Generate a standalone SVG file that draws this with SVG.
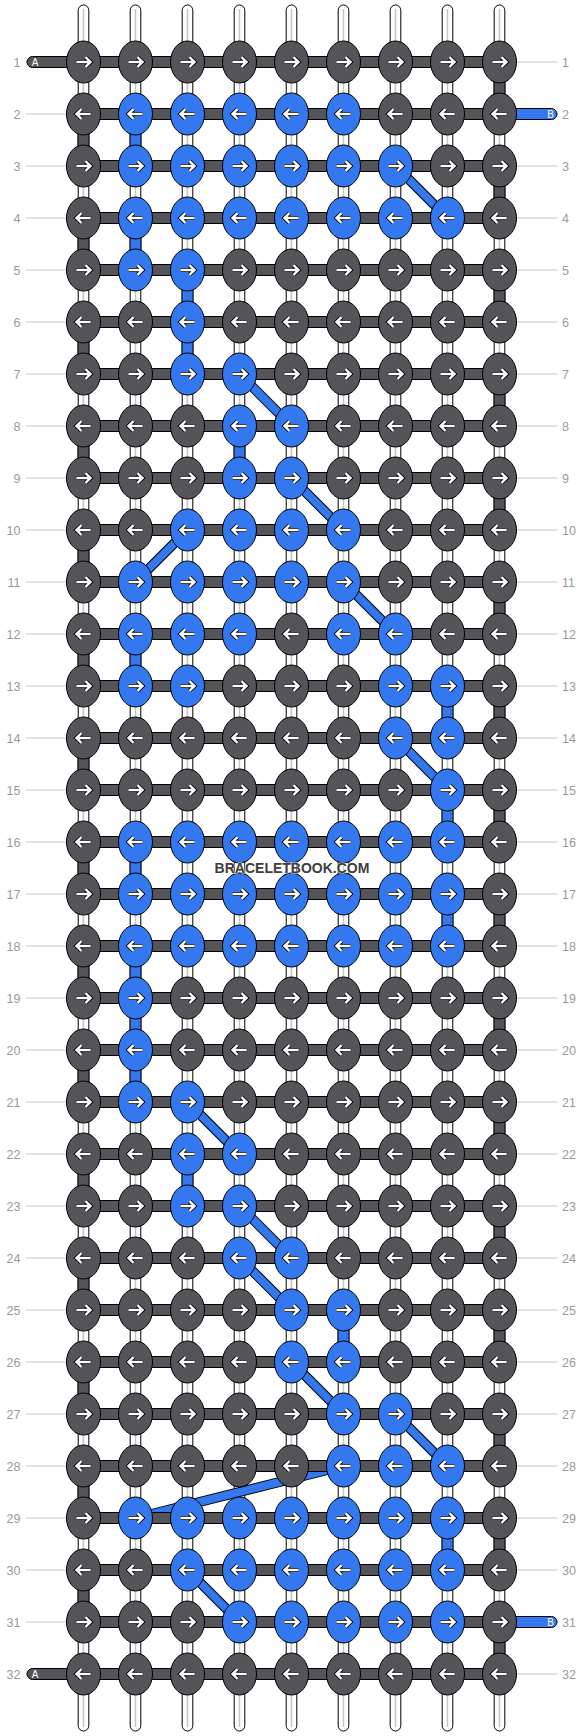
<svg xmlns="http://www.w3.org/2000/svg" xmlns:xlink="http://www.w3.org/1999/xlink" width="584" height="1736" viewBox="0 0 584 1736">
<style>
.d{fill:#555559;stroke:#000;stroke-width:1}
.b{fill:#3478ef;stroke:#000;stroke-width:1}
ellipse{rx:17px;ry:21px}
.ao{fill:none;stroke:#000;stroke-width:4.2}
.ai{fill:none;stroke:#fff;stroke-width:2.4}
.lbl{font-family:"Liberation Sans",Arial,sans-serif;font-size:12.5px;fill:#9a9a9a}
.ll{stroke:#c4c4c4;stroke-width:1;fill:none}
.vs{fill:#fff;stroke:#000;stroke-width:1}
.vc{stroke:#c8c8c8;stroke-width:1.6;fill:none}
.gd{fill:#555559;stroke:#000;stroke-width:1}
.gb{fill:#3478ef;stroke:#000;stroke-width:1}
.do{stroke:#000;stroke-width:10}
.di{stroke:#3478ef;stroke-width:8}
.st{font-family:"Liberation Sans",Arial,sans-serif;font-size:10px;fill:#fff;text-anchor:middle}
.wm{font-family:"Liberation Sans",Arial,sans-serif;font-size:14px;font-weight:bold;fill:#3d3d3d;text-anchor:middle;stroke:rgba(255,255,255,0.6);stroke-width:1.5;paint-order:stroke}
</style>
<defs>
<g id="R"><path class="ao" d="M-7,0H7M2,-4.8L7,0L2,4.8"/><path class="ai" d="M-7,0H7M2,-4.8L7,0L2,4.8"/></g>
<g id="L"><path class="ao" d="M7,0H-7M-2,-4.8L-7,0L-2,4.8"/><path class="ai" d="M7,0H-7M-2,-4.8L-7,0L-2,4.8"/></g>
</defs>
<g id="labels">
<path class="ll" d="M26,62H70M26,114H70M26,166H70M26,218H70M26,270H70M26,322H70M26,374H70M26,426H70M26,478H70M26,530H70M26,582H70M26,634H70M26,686H70M26,738H70M26,790H70M26,842H70M26,894H70M26,946H70M26,998H70M26,1050H70M26,1102H70M26,1154H70M26,1206H70M26,1258H70M26,1310H70M26,1362H70M26,1414H70M26,1466H70M26,1518H70M26,1570H70M26,1622H70M26,1674H70"/>
<path class="ll" d="M510,62H557M510,114H557M510,166H557M510,218H557M510,270H557M510,322H557M510,374H557M510,426H557M510,478H557M510,530H557M510,582H557M510,634H557M510,686H557M510,738H557M510,790H557M510,842H557M510,894H557M510,946H557M510,998H557M510,1050H557M510,1102H557M510,1154H557M510,1206H557M510,1258H557M510,1310H557M510,1362H557M510,1414H557M510,1466H557M510,1518H557M510,1570H557M510,1622H557M510,1674H557"/>
<g class="lbl" text-anchor="end">
<text x="20.5" y="66.5">1</text><text x="20.5" y="118.5">2</text><text x="20.5" y="170.5">3</text><text x="20.5" y="222.5">4</text><text x="20.5" y="274.5">5</text><text x="20.5" y="326.5">6</text><text x="20.5" y="378.5">7</text><text x="20.5" y="430.5">8</text><text x="20.5" y="482.5">9</text><text x="20.5" y="534.5">10</text><text x="20.5" y="586.5">11</text><text x="20.5" y="638.5">12</text><text x="20.5" y="690.5">13</text><text x="20.5" y="742.5">14</text><text x="20.5" y="794.5">15</text><text x="20.5" y="846.5">16</text><text x="20.5" y="898.5">17</text><text x="20.5" y="950.5">18</text><text x="20.5" y="1002.5">19</text><text x="20.5" y="1054.5">20</text><text x="20.5" y="1106.5">21</text><text x="20.5" y="1158.5">22</text><text x="20.5" y="1210.5">23</text><text x="20.5" y="1262.5">24</text><text x="20.5" y="1314.5">25</text><text x="20.5" y="1366.5">26</text><text x="20.5" y="1418.5">27</text><text x="20.5" y="1470.5">28</text><text x="20.5" y="1522.5">29</text><text x="20.5" y="1574.5">30</text><text x="20.5" y="1626.5">31</text><text x="20.5" y="1678.5">32</text>
</g>
<g class="lbl">
<text x="562" y="66.5">1</text><text x="562" y="118.5">2</text><text x="562" y="170.5">3</text><text x="562" y="222.5">4</text><text x="562" y="274.5">5</text><text x="562" y="326.5">6</text><text x="562" y="378.5">7</text><text x="562" y="430.5">8</text><text x="562" y="482.5">9</text><text x="562" y="534.5">10</text><text x="562" y="586.5">11</text><text x="562" y="638.5">12</text><text x="562" y="690.5">13</text><text x="562" y="742.5">14</text><text x="562" y="794.5">15</text><text x="562" y="846.5">16</text><text x="562" y="898.5">17</text><text x="562" y="950.5">18</text><text x="562" y="1002.5">19</text><text x="562" y="1054.5">20</text><text x="562" y="1106.5">21</text><text x="562" y="1158.5">22</text><text x="562" y="1210.5">23</text><text x="562" y="1262.5">24</text><text x="562" y="1314.5">25</text><text x="562" y="1366.5">26</text><text x="562" y="1418.5">27</text><text x="562" y="1470.5">28</text><text x="562" y="1522.5">29</text><text x="562" y="1574.5">30</text><text x="562" y="1626.5">31</text><text x="562" y="1678.5">32</text>
</g>
</g>
<g id="connectors">
<g id="strings">
<rect class="vs" x="78.2" y="5" width="10.6" height="1726" rx="5.3"/>
<rect class="vs" x="130.2" y="5" width="10.6" height="1726" rx="5.3"/>
<rect class="vs" x="182.2" y="5" width="10.6" height="1726" rx="5.3"/>
<rect class="vs" x="234.2" y="5" width="10.6" height="1726" rx="5.3"/>
<rect class="vs" x="286.2" y="5" width="10.6" height="1726" rx="5.3"/>
<rect class="vs" x="338.2" y="5" width="10.6" height="1726" rx="5.3"/>
<rect class="vs" x="390.2" y="5" width="10.6" height="1726" rx="5.3"/>
<rect class="vs" x="442.2" y="5" width="10.6" height="1726" rx="5.3"/>
<rect class="vs" x="494.2" y="5" width="10.6" height="1726" rx="5.3"/>
<path class="vc" d="M83.5,9V1727M135.5,9V1727M187.5,9V1727M239.5,9V1727M291.5,9V1727M343.5,9V1727M395.5,9V1727M447.5,9V1727M499.5,9V1727"/>
</g>
<g id="turns">
<rect class="gd" x="78" y="114" width="11" height="52"/><rect class="gd" x="78" y="218" width="11" height="52"/><rect class="gd" x="78" y="322" width="11" height="52"/><rect class="gd" x="78" y="426" width="11" height="52"/><rect class="gd" x="78" y="530" width="11" height="52"/><rect class="gd" x="78" y="634" width="11" height="52"/><rect class="gd" x="78" y="738" width="11" height="52"/><rect class="gd" x="78" y="842" width="11" height="52"/><rect class="gd" x="78" y="946" width="11" height="52"/><rect class="gd" x="78" y="1050" width="11" height="52"/><rect class="gd" x="78" y="1154" width="11" height="52"/><rect class="gd" x="78" y="1258" width="11" height="52"/><rect class="gd" x="78" y="1362" width="11" height="52"/><rect class="gd" x="78" y="1466" width="11" height="52"/><rect class="gd" x="78" y="1570" width="11" height="52"/>
<rect class="gd" x="494" y="62" width="11" height="52"/><rect class="gd" x="494" y="166" width="11" height="52"/><rect class="gd" x="494" y="270" width="11" height="52"/><rect class="gd" x="494" y="374" width="11" height="52"/><rect class="gd" x="494" y="478" width="11" height="52"/><rect class="gd" x="494" y="582" width="11" height="52"/><rect class="gd" x="494" y="686" width="11" height="52"/><rect class="gd" x="494" y="790" width="11" height="52"/><rect class="gd" x="494" y="894" width="11" height="52"/><rect class="gd" x="494" y="998" width="11" height="52"/><rect class="gd" x="494" y="1102" width="11" height="52"/><rect class="gd" x="494" y="1206" width="11" height="52"/><rect class="gd" x="494" y="1310" width="11" height="52"/><rect class="gd" x="494" y="1414" width="11" height="52"/><rect class="gd" x="494" y="1518" width="11" height="52"/><rect class="gd" x="494" y="1622" width="11" height="52"/>
</g>
<g id="blue-verticals">
<rect class="gb" x="130" y="114" width="11" height="52"/><rect class="gb" x="130" y="218" width="11" height="52"/><rect class="gb" x="182" y="270" width="11" height="52"/><rect class="gb" x="182" y="322" width="11" height="52"/><rect class="gb" x="234" y="426" width="11" height="52"/><rect class="gb" x="130" y="634" width="11" height="52"/><rect class="gb" x="442" y="686" width="11" height="52"/><rect class="gb" x="442" y="790" width="11" height="52"/><rect class="gb" x="130" y="842" width="11" height="52"/><rect class="gb" x="442" y="894" width="11" height="52"/><rect class="gb" x="130" y="946" width="11" height="52"/><rect class="gb" x="130" y="998" width="11" height="52"/><rect class="gb" x="130" y="1050" width="11" height="52"/><rect class="gb" x="182" y="1154" width="11" height="52"/><rect class="gb" x="338" y="1310" width="11" height="52"/><rect class="gb" x="442" y="1518" width="11" height="52"/>
</g>
<g id="diagonals">
<g><line class="do" x1="395.5" y1="166" x2="447.5" y2="218"/><line class="di" x1="395.5" y1="166" x2="447.5" y2="218"/></g>
<g><line class="do" x1="239.5" y1="374" x2="291.5" y2="426"/><line class="di" x1="239.5" y1="374" x2="291.5" y2="426"/></g>
<g><line class="do" x1="291.5" y1="478" x2="343.5" y2="530"/><line class="di" x1="291.5" y1="478" x2="343.5" y2="530"/></g>
<g><line class="do" x1="187.5" y1="530" x2="135.5" y2="582"/><line class="di" x1="187.5" y1="530" x2="135.5" y2="582"/></g>
<g><line class="do" x1="343.5" y1="582" x2="395.5" y2="634"/><line class="di" x1="343.5" y1="582" x2="395.5" y2="634"/></g>
<g><line class="do" x1="395.5" y1="738" x2="447.5" y2="790"/><line class="di" x1="395.5" y1="738" x2="447.5" y2="790"/></g>
<g><line class="do" x1="187.5" y1="1102" x2="239.5" y2="1154"/><line class="di" x1="187.5" y1="1102" x2="239.5" y2="1154"/></g>
<g><line class="do" x1="239.5" y1="1206" x2="291.5" y2="1258"/><line class="di" x1="239.5" y1="1206" x2="291.5" y2="1258"/></g>
<g><line class="do" x1="239.5" y1="1258" x2="291.5" y2="1310"/><line class="di" x1="239.5" y1="1258" x2="291.5" y2="1310"/></g>
<g><line class="do" x1="291.5" y1="1362" x2="343.5" y2="1414"/><line class="di" x1="291.5" y1="1362" x2="343.5" y2="1414"/></g>
<g><line class="do" x1="395.5" y1="1414" x2="447.5" y2="1466"/><line class="di" x1="395.5" y1="1414" x2="447.5" y2="1466"/></g>
<g><line class="do" x1="343.5" y1="1466" x2="135.5" y2="1518"/><line class="di" x1="343.5" y1="1466" x2="135.5" y2="1518"/></g>
<g><line class="do" x1="187.5" y1="1570" x2="239.5" y2="1622"/><line class="di" x1="187.5" y1="1570" x2="239.5" y2="1622"/></g>
</g>
<g id="rows">
<rect class="gd" x="83.5" y="56.5" width="416" height="11"/><rect class="gd" x="83.5" y="108.5" width="416" height="11"/><rect class="gd" x="83.5" y="160.5" width="416" height="11"/><rect class="gd" x="83.5" y="212.5" width="416" height="11"/><rect class="gd" x="83.5" y="264.5" width="416" height="11"/><rect class="gd" x="83.5" y="316.5" width="416" height="11"/><rect class="gd" x="83.5" y="368.5" width="416" height="11"/><rect class="gd" x="83.5" y="420.5" width="416" height="11"/><rect class="gd" x="83.5" y="472.5" width="416" height="11"/><rect class="gd" x="83.5" y="524.5" width="416" height="11"/><rect class="gd" x="83.5" y="576.5" width="416" height="11"/><rect class="gd" x="83.5" y="628.5" width="416" height="11"/><rect class="gd" x="83.5" y="680.5" width="416" height="11"/><rect class="gd" x="83.5" y="732.5" width="416" height="11"/><rect class="gd" x="83.5" y="784.5" width="416" height="11"/><rect class="gd" x="83.5" y="836.5" width="416" height="11"/><rect class="gd" x="83.5" y="888.5" width="416" height="11"/><rect class="gd" x="83.5" y="940.5" width="416" height="11"/><rect class="gd" x="83.5" y="992.5" width="416" height="11"/><rect class="gd" x="83.5" y="1044.5" width="416" height="11"/><rect class="gd" x="83.5" y="1096.5" width="416" height="11"/><rect class="gd" x="83.5" y="1148.5" width="416" height="11"/><rect class="gd" x="83.5" y="1200.5" width="416" height="11"/><rect class="gd" x="83.5" y="1252.5" width="416" height="11"/><rect class="gd" x="83.5" y="1304.5" width="416" height="11"/><rect class="gd" x="83.5" y="1356.5" width="416" height="11"/><rect class="gd" x="83.5" y="1408.5" width="416" height="11"/><rect class="gd" x="83.5" y="1460.5" width="416" height="11"/><rect class="gd" x="83.5" y="1512.5" width="416" height="11"/><rect class="gd" x="83.5" y="1564.5" width="416" height="11"/><rect class="gd" x="83.5" y="1616.5" width="416" height="11"/><rect class="gd" x="83.5" y="1668.5" width="416" height="11"/>
</g>
<g id="ends">
<rect class="gd" x="27" y="56.5" width="60" height="11" rx="5.5"/><text class="st" x="35" y="65.6">A</text>
<rect class="gd" x="27" y="1668.5" width="60" height="11" rx="5.5"/><text class="st" x="35" y="1677.6">A</text>
<rect class="gb" x="496" y="108.5" width="61" height="11" rx="5.5"/><text class="st" x="550.5" y="117.6">B</text>
<rect class="gb" x="496" y="1616.5" width="61" height="11" rx="5.5"/><text class="st" x="550.5" y="1625.6">B</text>
</g>
</g>
<g id="knots">
<g transform="translate(0,62)">
<g id="k1-1"><ellipse class="d" cx="83.5"/><use href="#R" x="83.5"/></g><g id="k1-2"><ellipse class="d" cx="135.5"/><use href="#R" x="135.5"/></g><g id="k1-3"><ellipse class="d" cx="187.5"/><use href="#R" x="187.5"/></g><g id="k1-4"><ellipse class="d" cx="239.5"/><use href="#R" x="239.5"/></g><g id="k1-5"><ellipse class="d" cx="291.5"/><use href="#R" x="291.5"/></g><g id="k1-6"><ellipse class="d" cx="343.5"/><use href="#R" x="343.5"/></g><g id="k1-7"><ellipse class="d" cx="395.5"/><use href="#R" x="395.5"/></g><g id="k1-8"><ellipse class="d" cx="447.5"/><use href="#R" x="447.5"/></g><g id="k1-9"><ellipse class="d" cx="499.5"/><use href="#R" x="499.5"/></g>
</g>
<g transform="translate(0,114)">
<g id="k2-1"><ellipse class="d" cx="83.5"/><use href="#L" x="83.5"/></g><g id="k2-2"><ellipse class="b" cx="135.5"/><use href="#L" x="135.5"/></g><g id="k2-3"><ellipse class="b" cx="187.5"/><use href="#L" x="187.5"/></g><g id="k2-4"><ellipse class="b" cx="239.5"/><use href="#L" x="239.5"/></g><g id="k2-5"><ellipse class="b" cx="291.5"/><use href="#L" x="291.5"/></g><g id="k2-6"><ellipse class="b" cx="343.5"/><use href="#L" x="343.5"/></g><g id="k2-7"><ellipse class="d" cx="395.5"/><use href="#L" x="395.5"/></g><g id="k2-8"><ellipse class="d" cx="447.5"/><use href="#L" x="447.5"/></g><g id="k2-9"><ellipse class="d" cx="499.5"/><use href="#L" x="499.5"/></g>
</g>
<g transform="translate(0,166)">
<g id="k3-1"><ellipse class="d" cx="83.5"/><use href="#R" x="83.5"/></g><g id="k3-2"><ellipse class="b" cx="135.5"/><use href="#R" x="135.5"/></g><g id="k3-3"><ellipse class="b" cx="187.5"/><use href="#R" x="187.5"/></g><g id="k3-4"><ellipse class="b" cx="239.5"/><use href="#R" x="239.5"/></g><g id="k3-5"><ellipse class="b" cx="291.5"/><use href="#R" x="291.5"/></g><g id="k3-6"><ellipse class="b" cx="343.5"/><use href="#R" x="343.5"/></g><g id="k3-7"><ellipse class="b" cx="395.5"/><use href="#R" x="395.5"/></g><g id="k3-8"><ellipse class="d" cx="447.5"/><use href="#R" x="447.5"/></g><g id="k3-9"><ellipse class="d" cx="499.5"/><use href="#R" x="499.5"/></g>
</g>
<g transform="translate(0,218)">
<g id="k4-1"><ellipse class="d" cx="83.5"/><use href="#L" x="83.5"/></g><g id="k4-2"><ellipse class="b" cx="135.5"/><use href="#L" x="135.5"/></g><g id="k4-3"><ellipse class="b" cx="187.5"/><use href="#L" x="187.5"/></g><g id="k4-4"><ellipse class="b" cx="239.5"/><use href="#L" x="239.5"/></g><g id="k4-5"><ellipse class="b" cx="291.5"/><use href="#L" x="291.5"/></g><g id="k4-6"><ellipse class="b" cx="343.5"/><use href="#L" x="343.5"/></g><g id="k4-7"><ellipse class="b" cx="395.5"/><use href="#L" x="395.5"/></g><g id="k4-8"><ellipse class="b" cx="447.5"/><use href="#L" x="447.5"/></g><g id="k4-9"><ellipse class="d" cx="499.5"/><use href="#L" x="499.5"/></g>
</g>
<g transform="translate(0,270)">
<g id="k5-1"><ellipse class="d" cx="83.5"/><use href="#R" x="83.5"/></g><g id="k5-2"><ellipse class="b" cx="135.5"/><use href="#R" x="135.5"/></g><g id="k5-3"><ellipse class="b" cx="187.5"/><use href="#R" x="187.5"/></g><g id="k5-4"><ellipse class="d" cx="239.5"/><use href="#R" x="239.5"/></g><g id="k5-5"><ellipse class="d" cx="291.5"/><use href="#R" x="291.5"/></g><g id="k5-6"><ellipse class="d" cx="343.5"/><use href="#R" x="343.5"/></g><g id="k5-7"><ellipse class="d" cx="395.5"/><use href="#R" x="395.5"/></g><g id="k5-8"><ellipse class="d" cx="447.5"/><use href="#R" x="447.5"/></g><g id="k5-9"><ellipse class="d" cx="499.5"/><use href="#R" x="499.5"/></g>
</g>
<g transform="translate(0,322)">
<g id="k6-1"><ellipse class="d" cx="83.5"/><use href="#L" x="83.5"/></g><g id="k6-2"><ellipse class="d" cx="135.5"/><use href="#L" x="135.5"/></g><g id="k6-3"><ellipse class="b" cx="187.5"/><use href="#L" x="187.5"/></g><g id="k6-4"><ellipse class="d" cx="239.5"/><use href="#L" x="239.5"/></g><g id="k6-5"><ellipse class="d" cx="291.5"/><use href="#L" x="291.5"/></g><g id="k6-6"><ellipse class="d" cx="343.5"/><use href="#L" x="343.5"/></g><g id="k6-7"><ellipse class="d" cx="395.5"/><use href="#L" x="395.5"/></g><g id="k6-8"><ellipse class="d" cx="447.5"/><use href="#L" x="447.5"/></g><g id="k6-9"><ellipse class="d" cx="499.5"/><use href="#L" x="499.5"/></g>
</g>
<g transform="translate(0,374)">
<g id="k7-1"><ellipse class="d" cx="83.5"/><use href="#R" x="83.5"/></g><g id="k7-2"><ellipse class="d" cx="135.5"/><use href="#R" x="135.5"/></g><g id="k7-3"><ellipse class="b" cx="187.5"/><use href="#R" x="187.5"/></g><g id="k7-4"><ellipse class="b" cx="239.5"/><use href="#R" x="239.5"/></g><g id="k7-5"><ellipse class="d" cx="291.5"/><use href="#R" x="291.5"/></g><g id="k7-6"><ellipse class="d" cx="343.5"/><use href="#R" x="343.5"/></g><g id="k7-7"><ellipse class="d" cx="395.5"/><use href="#R" x="395.5"/></g><g id="k7-8"><ellipse class="d" cx="447.5"/><use href="#R" x="447.5"/></g><g id="k7-9"><ellipse class="d" cx="499.5"/><use href="#R" x="499.5"/></g>
</g>
<g transform="translate(0,426)">
<g id="k8-1"><ellipse class="d" cx="83.5"/><use href="#L" x="83.5"/></g><g id="k8-2"><ellipse class="d" cx="135.5"/><use href="#L" x="135.5"/></g><g id="k8-3"><ellipse class="d" cx="187.5"/><use href="#L" x="187.5"/></g><g id="k8-4"><ellipse class="b" cx="239.5"/><use href="#L" x="239.5"/></g><g id="k8-5"><ellipse class="b" cx="291.5"/><use href="#L" x="291.5"/></g><g id="k8-6"><ellipse class="d" cx="343.5"/><use href="#L" x="343.5"/></g><g id="k8-7"><ellipse class="d" cx="395.5"/><use href="#L" x="395.5"/></g><g id="k8-8"><ellipse class="d" cx="447.5"/><use href="#L" x="447.5"/></g><g id="k8-9"><ellipse class="d" cx="499.5"/><use href="#L" x="499.5"/></g>
</g>
<g transform="translate(0,478)">
<g id="k9-1"><ellipse class="d" cx="83.5"/><use href="#R" x="83.5"/></g><g id="k9-2"><ellipse class="d" cx="135.5"/><use href="#R" x="135.5"/></g><g id="k9-3"><ellipse class="d" cx="187.5"/><use href="#R" x="187.5"/></g><g id="k9-4"><ellipse class="b" cx="239.5"/><use href="#R" x="239.5"/></g><g id="k9-5"><ellipse class="b" cx="291.5"/><use href="#R" x="291.5"/></g><g id="k9-6"><ellipse class="d" cx="343.5"/><use href="#R" x="343.5"/></g><g id="k9-7"><ellipse class="d" cx="395.5"/><use href="#R" x="395.5"/></g><g id="k9-8"><ellipse class="d" cx="447.5"/><use href="#R" x="447.5"/></g><g id="k9-9"><ellipse class="d" cx="499.5"/><use href="#R" x="499.5"/></g>
</g>
<g transform="translate(0,530)">
<g id="k10-1"><ellipse class="d" cx="83.5"/><use href="#L" x="83.5"/></g><g id="k10-2"><ellipse class="d" cx="135.5"/><use href="#L" x="135.5"/></g><g id="k10-3"><ellipse class="b" cx="187.5"/><use href="#L" x="187.5"/></g><g id="k10-4"><ellipse class="b" cx="239.5"/><use href="#L" x="239.5"/></g><g id="k10-5"><ellipse class="b" cx="291.5"/><use href="#L" x="291.5"/></g><g id="k10-6"><ellipse class="b" cx="343.5"/><use href="#L" x="343.5"/></g><g id="k10-7"><ellipse class="d" cx="395.5"/><use href="#L" x="395.5"/></g><g id="k10-8"><ellipse class="d" cx="447.5"/><use href="#L" x="447.5"/></g><g id="k10-9"><ellipse class="d" cx="499.5"/><use href="#L" x="499.5"/></g>
</g>
<g transform="translate(0,582)">
<g id="k11-1"><ellipse class="d" cx="83.5"/><use href="#R" x="83.5"/></g><g id="k11-2"><ellipse class="b" cx="135.5"/><use href="#R" x="135.5"/></g><g id="k11-3"><ellipse class="b" cx="187.5"/><use href="#R" x="187.5"/></g><g id="k11-4"><ellipse class="b" cx="239.5"/><use href="#R" x="239.5"/></g><g id="k11-5"><ellipse class="b" cx="291.5"/><use href="#R" x="291.5"/></g><g id="k11-6"><ellipse class="b" cx="343.5"/><use href="#R" x="343.5"/></g><g id="k11-7"><ellipse class="d" cx="395.5"/><use href="#R" x="395.5"/></g><g id="k11-8"><ellipse class="d" cx="447.5"/><use href="#R" x="447.5"/></g><g id="k11-9"><ellipse class="d" cx="499.5"/><use href="#R" x="499.5"/></g>
</g>
<g transform="translate(0,634)">
<g id="k12-1"><ellipse class="d" cx="83.5"/><use href="#L" x="83.5"/></g><g id="k12-2"><ellipse class="b" cx="135.5"/><use href="#L" x="135.5"/></g><g id="k12-3"><ellipse class="b" cx="187.5"/><use href="#L" x="187.5"/></g><g id="k12-4"><ellipse class="b" cx="239.5"/><use href="#L" x="239.5"/></g><g id="k12-5"><ellipse class="d" cx="291.5"/><use href="#L" x="291.5"/></g><g id="k12-6"><ellipse class="b" cx="343.5"/><use href="#L" x="343.5"/></g><g id="k12-7"><ellipse class="b" cx="395.5"/><use href="#L" x="395.5"/></g><g id="k12-8"><ellipse class="d" cx="447.5"/><use href="#L" x="447.5"/></g><g id="k12-9"><ellipse class="d" cx="499.5"/><use href="#L" x="499.5"/></g>
</g>
<g transform="translate(0,686)">
<g id="k13-1"><ellipse class="d" cx="83.5"/><use href="#R" x="83.5"/></g><g id="k13-2"><ellipse class="b" cx="135.5"/><use href="#R" x="135.5"/></g><g id="k13-3"><ellipse class="b" cx="187.5"/><use href="#R" x="187.5"/></g><g id="k13-4"><ellipse class="d" cx="239.5"/><use href="#R" x="239.5"/></g><g id="k13-5"><ellipse class="d" cx="291.5"/><use href="#R" x="291.5"/></g><g id="k13-6"><ellipse class="d" cx="343.5"/><use href="#R" x="343.5"/></g><g id="k13-7"><ellipse class="b" cx="395.5"/><use href="#R" x="395.5"/></g><g id="k13-8"><ellipse class="b" cx="447.5"/><use href="#R" x="447.5"/></g><g id="k13-9"><ellipse class="d" cx="499.5"/><use href="#R" x="499.5"/></g>
</g>
<g transform="translate(0,738)">
<g id="k14-1"><ellipse class="d" cx="83.5"/><use href="#L" x="83.5"/></g><g id="k14-2"><ellipse class="d" cx="135.5"/><use href="#L" x="135.5"/></g><g id="k14-3"><ellipse class="d" cx="187.5"/><use href="#L" x="187.5"/></g><g id="k14-4"><ellipse class="d" cx="239.5"/><use href="#L" x="239.5"/></g><g id="k14-5"><ellipse class="d" cx="291.5"/><use href="#L" x="291.5"/></g><g id="k14-6"><ellipse class="d" cx="343.5"/><use href="#L" x="343.5"/></g><g id="k14-7"><ellipse class="b" cx="395.5"/><use href="#L" x="395.5"/></g><g id="k14-8"><ellipse class="b" cx="447.5"/><use href="#L" x="447.5"/></g><g id="k14-9"><ellipse class="d" cx="499.5"/><use href="#L" x="499.5"/></g>
</g>
<g transform="translate(0,790)">
<g id="k15-1"><ellipse class="d" cx="83.5"/><use href="#R" x="83.5"/></g><g id="k15-2"><ellipse class="d" cx="135.5"/><use href="#R" x="135.5"/></g><g id="k15-3"><ellipse class="d" cx="187.5"/><use href="#R" x="187.5"/></g><g id="k15-4"><ellipse class="d" cx="239.5"/><use href="#R" x="239.5"/></g><g id="k15-5"><ellipse class="d" cx="291.5"/><use href="#R" x="291.5"/></g><g id="k15-6"><ellipse class="d" cx="343.5"/><use href="#R" x="343.5"/></g><g id="k15-7"><ellipse class="d" cx="395.5"/><use href="#R" x="395.5"/></g><g id="k15-8"><ellipse class="b" cx="447.5"/><use href="#R" x="447.5"/></g><g id="k15-9"><ellipse class="d" cx="499.5"/><use href="#R" x="499.5"/></g>
</g>
<g transform="translate(0,842)">
<g id="k16-1"><ellipse class="d" cx="83.5"/><use href="#L" x="83.5"/></g><g id="k16-2"><ellipse class="b" cx="135.5"/><use href="#L" x="135.5"/></g><g id="k16-3"><ellipse class="b" cx="187.5"/><use href="#L" x="187.5"/></g><g id="k16-4"><ellipse class="b" cx="239.5"/><use href="#L" x="239.5"/></g><g id="k16-5"><ellipse class="b" cx="291.5"/><use href="#L" x="291.5"/></g><g id="k16-6"><ellipse class="b" cx="343.5"/><use href="#L" x="343.5"/></g><g id="k16-7"><ellipse class="b" cx="395.5"/><use href="#L" x="395.5"/></g><g id="k16-8"><ellipse class="b" cx="447.5"/><use href="#L" x="447.5"/></g><g id="k16-9"><ellipse class="d" cx="499.5"/><use href="#L" x="499.5"/></g>
</g>
<g transform="translate(0,894)">
<g id="k17-1"><ellipse class="d" cx="83.5"/><use href="#R" x="83.5"/></g><g id="k17-2"><ellipse class="b" cx="135.5"/><use href="#R" x="135.5"/></g><g id="k17-3"><ellipse class="b" cx="187.5"/><use href="#R" x="187.5"/></g><g id="k17-4"><ellipse class="b" cx="239.5"/><use href="#R" x="239.5"/></g><g id="k17-5"><ellipse class="b" cx="291.5"/><use href="#R" x="291.5"/></g><g id="k17-6"><ellipse class="b" cx="343.5"/><use href="#R" x="343.5"/></g><g id="k17-7"><ellipse class="b" cx="395.5"/><use href="#R" x="395.5"/></g><g id="k17-8"><ellipse class="b" cx="447.5"/><use href="#R" x="447.5"/></g><g id="k17-9"><ellipse class="d" cx="499.5"/><use href="#R" x="499.5"/></g>
</g>
<g transform="translate(0,946)">
<g id="k18-1"><ellipse class="d" cx="83.5"/><use href="#L" x="83.5"/></g><g id="k18-2"><ellipse class="b" cx="135.5"/><use href="#L" x="135.5"/></g><g id="k18-3"><ellipse class="b" cx="187.5"/><use href="#L" x="187.5"/></g><g id="k18-4"><ellipse class="b" cx="239.5"/><use href="#L" x="239.5"/></g><g id="k18-5"><ellipse class="b" cx="291.5"/><use href="#L" x="291.5"/></g><g id="k18-6"><ellipse class="b" cx="343.5"/><use href="#L" x="343.5"/></g><g id="k18-7"><ellipse class="b" cx="395.5"/><use href="#L" x="395.5"/></g><g id="k18-8"><ellipse class="b" cx="447.5"/><use href="#L" x="447.5"/></g><g id="k18-9"><ellipse class="d" cx="499.5"/><use href="#L" x="499.5"/></g>
</g>
<g transform="translate(0,998)">
<g id="k19-1"><ellipse class="d" cx="83.5"/><use href="#R" x="83.5"/></g><g id="k19-2"><ellipse class="b" cx="135.5"/><use href="#R" x="135.5"/></g><g id="k19-3"><ellipse class="d" cx="187.5"/><use href="#R" x="187.5"/></g><g id="k19-4"><ellipse class="d" cx="239.5"/><use href="#R" x="239.5"/></g><g id="k19-5"><ellipse class="d" cx="291.5"/><use href="#R" x="291.5"/></g><g id="k19-6"><ellipse class="d" cx="343.5"/><use href="#R" x="343.5"/></g><g id="k19-7"><ellipse class="d" cx="395.5"/><use href="#R" x="395.5"/></g><g id="k19-8"><ellipse class="d" cx="447.5"/><use href="#R" x="447.5"/></g><g id="k19-9"><ellipse class="d" cx="499.5"/><use href="#R" x="499.5"/></g>
</g>
<g transform="translate(0,1050)">
<g id="k20-1"><ellipse class="d" cx="83.5"/><use href="#L" x="83.5"/></g><g id="k20-2"><ellipse class="b" cx="135.5"/><use href="#L" x="135.5"/></g><g id="k20-3"><ellipse class="d" cx="187.5"/><use href="#L" x="187.5"/></g><g id="k20-4"><ellipse class="d" cx="239.5"/><use href="#L" x="239.5"/></g><g id="k20-5"><ellipse class="d" cx="291.5"/><use href="#L" x="291.5"/></g><g id="k20-6"><ellipse class="d" cx="343.5"/><use href="#L" x="343.5"/></g><g id="k20-7"><ellipse class="d" cx="395.5"/><use href="#L" x="395.5"/></g><g id="k20-8"><ellipse class="d" cx="447.5"/><use href="#L" x="447.5"/></g><g id="k20-9"><ellipse class="d" cx="499.5"/><use href="#L" x="499.5"/></g>
</g>
<g transform="translate(0,1102)">
<g id="k21-1"><ellipse class="d" cx="83.5"/><use href="#R" x="83.5"/></g><g id="k21-2"><ellipse class="b" cx="135.5"/><use href="#R" x="135.5"/></g><g id="k21-3"><ellipse class="b" cx="187.5"/><use href="#R" x="187.5"/></g><g id="k21-4"><ellipse class="d" cx="239.5"/><use href="#R" x="239.5"/></g><g id="k21-5"><ellipse class="d" cx="291.5"/><use href="#R" x="291.5"/></g><g id="k21-6"><ellipse class="d" cx="343.5"/><use href="#R" x="343.5"/></g><g id="k21-7"><ellipse class="d" cx="395.5"/><use href="#R" x="395.5"/></g><g id="k21-8"><ellipse class="d" cx="447.5"/><use href="#R" x="447.5"/></g><g id="k21-9"><ellipse class="d" cx="499.5"/><use href="#R" x="499.5"/></g>
</g>
<g transform="translate(0,1154)">
<g id="k22-1"><ellipse class="d" cx="83.5"/><use href="#L" x="83.5"/></g><g id="k22-2"><ellipse class="d" cx="135.5"/><use href="#L" x="135.5"/></g><g id="k22-3"><ellipse class="b" cx="187.5"/><use href="#L" x="187.5"/></g><g id="k22-4"><ellipse class="b" cx="239.5"/><use href="#L" x="239.5"/></g><g id="k22-5"><ellipse class="d" cx="291.5"/><use href="#L" x="291.5"/></g><g id="k22-6"><ellipse class="d" cx="343.5"/><use href="#L" x="343.5"/></g><g id="k22-7"><ellipse class="d" cx="395.5"/><use href="#L" x="395.5"/></g><g id="k22-8"><ellipse class="d" cx="447.5"/><use href="#L" x="447.5"/></g><g id="k22-9"><ellipse class="d" cx="499.5"/><use href="#L" x="499.5"/></g>
</g>
<g transform="translate(0,1206)">
<g id="k23-1"><ellipse class="d" cx="83.5"/><use href="#R" x="83.5"/></g><g id="k23-2"><ellipse class="d" cx="135.5"/><use href="#R" x="135.5"/></g><g id="k23-3"><ellipse class="b" cx="187.5"/><use href="#R" x="187.5"/></g><g id="k23-4"><ellipse class="b" cx="239.5"/><use href="#R" x="239.5"/></g><g id="k23-5"><ellipse class="d" cx="291.5"/><use href="#R" x="291.5"/></g><g id="k23-6"><ellipse class="d" cx="343.5"/><use href="#R" x="343.5"/></g><g id="k23-7"><ellipse class="d" cx="395.5"/><use href="#R" x="395.5"/></g><g id="k23-8"><ellipse class="d" cx="447.5"/><use href="#R" x="447.5"/></g><g id="k23-9"><ellipse class="d" cx="499.5"/><use href="#R" x="499.5"/></g>
</g>
<g transform="translate(0,1258)">
<g id="k24-1"><ellipse class="d" cx="83.5"/><use href="#L" x="83.5"/></g><g id="k24-2"><ellipse class="d" cx="135.5"/><use href="#L" x="135.5"/></g><g id="k24-3"><ellipse class="d" cx="187.5"/><use href="#L" x="187.5"/></g><g id="k24-4"><ellipse class="b" cx="239.5"/><use href="#L" x="239.5"/></g><g id="k24-5"><ellipse class="b" cx="291.5"/><use href="#L" x="291.5"/></g><g id="k24-6"><ellipse class="d" cx="343.5"/><use href="#L" x="343.5"/></g><g id="k24-7"><ellipse class="d" cx="395.5"/><use href="#L" x="395.5"/></g><g id="k24-8"><ellipse class="d" cx="447.5"/><use href="#L" x="447.5"/></g><g id="k24-9"><ellipse class="d" cx="499.5"/><use href="#L" x="499.5"/></g>
</g>
<g transform="translate(0,1310)">
<g id="k25-1"><ellipse class="d" cx="83.5"/><use href="#R" x="83.5"/></g><g id="k25-2"><ellipse class="d" cx="135.5"/><use href="#R" x="135.5"/></g><g id="k25-3"><ellipse class="d" cx="187.5"/><use href="#R" x="187.5"/></g><g id="k25-4"><ellipse class="d" cx="239.5"/><use href="#R" x="239.5"/></g><g id="k25-5"><ellipse class="b" cx="291.5"/><use href="#R" x="291.5"/></g><g id="k25-6"><ellipse class="b" cx="343.5"/><use href="#R" x="343.5"/></g><g id="k25-7"><ellipse class="d" cx="395.5"/><use href="#R" x="395.5"/></g><g id="k25-8"><ellipse class="d" cx="447.5"/><use href="#R" x="447.5"/></g><g id="k25-9"><ellipse class="d" cx="499.5"/><use href="#R" x="499.5"/></g>
</g>
<g transform="translate(0,1362)">
<g id="k26-1"><ellipse class="d" cx="83.5"/><use href="#L" x="83.5"/></g><g id="k26-2"><ellipse class="d" cx="135.5"/><use href="#L" x="135.5"/></g><g id="k26-3"><ellipse class="d" cx="187.5"/><use href="#L" x="187.5"/></g><g id="k26-4"><ellipse class="d" cx="239.5"/><use href="#L" x="239.5"/></g><g id="k26-5"><ellipse class="b" cx="291.5"/><use href="#L" x="291.5"/></g><g id="k26-6"><ellipse class="b" cx="343.5"/><use href="#L" x="343.5"/></g><g id="k26-7"><ellipse class="d" cx="395.5"/><use href="#L" x="395.5"/></g><g id="k26-8"><ellipse class="d" cx="447.5"/><use href="#L" x="447.5"/></g><g id="k26-9"><ellipse class="d" cx="499.5"/><use href="#L" x="499.5"/></g>
</g>
<g transform="translate(0,1414)">
<g id="k27-1"><ellipse class="d" cx="83.5"/><use href="#R" x="83.5"/></g><g id="k27-2"><ellipse class="d" cx="135.5"/><use href="#R" x="135.5"/></g><g id="k27-3"><ellipse class="d" cx="187.5"/><use href="#R" x="187.5"/></g><g id="k27-4"><ellipse class="d" cx="239.5"/><use href="#R" x="239.5"/></g><g id="k27-5"><ellipse class="d" cx="291.5"/><use href="#R" x="291.5"/></g><g id="k27-6"><ellipse class="b" cx="343.5"/><use href="#R" x="343.5"/></g><g id="k27-7"><ellipse class="b" cx="395.5"/><use href="#R" x="395.5"/></g><g id="k27-8"><ellipse class="d" cx="447.5"/><use href="#R" x="447.5"/></g><g id="k27-9"><ellipse class="d" cx="499.5"/><use href="#R" x="499.5"/></g>
</g>
<g transform="translate(0,1466)">
<g id="k28-1"><ellipse class="d" cx="83.5"/><use href="#L" x="83.5"/></g><g id="k28-2"><ellipse class="d" cx="135.5"/><use href="#L" x="135.5"/></g><g id="k28-3"><ellipse class="d" cx="187.5"/><use href="#L" x="187.5"/></g><g id="k28-4"><ellipse class="d" cx="239.5"/><use href="#L" x="239.5"/></g><g id="k28-5"><ellipse class="d" cx="291.5"/><use href="#L" x="291.5"/></g><g id="k28-6"><ellipse class="b" cx="343.5"/><use href="#L" x="343.5"/></g><g id="k28-7"><ellipse class="b" cx="395.5"/><use href="#L" x="395.5"/></g><g id="k28-8"><ellipse class="b" cx="447.5"/><use href="#L" x="447.5"/></g><g id="k28-9"><ellipse class="d" cx="499.5"/><use href="#L" x="499.5"/></g>
</g>
<g transform="translate(0,1518)">
<g id="k29-1"><ellipse class="d" cx="83.5"/><use href="#R" x="83.5"/></g><g id="k29-2"><ellipse class="b" cx="135.5"/><use href="#R" x="135.5"/></g><g id="k29-3"><ellipse class="b" cx="187.5"/><use href="#R" x="187.5"/></g><g id="k29-4"><ellipse class="b" cx="239.5"/><use href="#R" x="239.5"/></g><g id="k29-5"><ellipse class="b" cx="291.5"/><use href="#R" x="291.5"/></g><g id="k29-6"><ellipse class="b" cx="343.5"/><use href="#R" x="343.5"/></g><g id="k29-7"><ellipse class="b" cx="395.5"/><use href="#R" x="395.5"/></g><g id="k29-8"><ellipse class="b" cx="447.5"/><use href="#R" x="447.5"/></g><g id="k29-9"><ellipse class="d" cx="499.5"/><use href="#R" x="499.5"/></g>
</g>
<g transform="translate(0,1570)">
<g id="k30-1"><ellipse class="d" cx="83.5"/><use href="#L" x="83.5"/></g><g id="k30-2"><ellipse class="d" cx="135.5"/><use href="#L" x="135.5"/></g><g id="k30-3"><ellipse class="b" cx="187.5"/><use href="#L" x="187.5"/></g><g id="k30-4"><ellipse class="b" cx="239.5"/><use href="#L" x="239.5"/></g><g id="k30-5"><ellipse class="b" cx="291.5"/><use href="#L" x="291.5"/></g><g id="k30-6"><ellipse class="b" cx="343.5"/><use href="#L" x="343.5"/></g><g id="k30-7"><ellipse class="b" cx="395.5"/><use href="#L" x="395.5"/></g><g id="k30-8"><ellipse class="b" cx="447.5"/><use href="#L" x="447.5"/></g><g id="k30-9"><ellipse class="d" cx="499.5"/><use href="#L" x="499.5"/></g>
</g>
<g transform="translate(0,1622)">
<g id="k31-1"><ellipse class="d" cx="83.5"/><use href="#R" x="83.5"/></g><g id="k31-2"><ellipse class="d" cx="135.5"/><use href="#R" x="135.5"/></g><g id="k31-3"><ellipse class="d" cx="187.5"/><use href="#R" x="187.5"/></g><g id="k31-4"><ellipse class="b" cx="239.5"/><use href="#R" x="239.5"/></g><g id="k31-5"><ellipse class="b" cx="291.5"/><use href="#R" x="291.5"/></g><g id="k31-6"><ellipse class="b" cx="343.5"/><use href="#R" x="343.5"/></g><g id="k31-7"><ellipse class="b" cx="395.5"/><use href="#R" x="395.5"/></g><g id="k31-8"><ellipse class="b" cx="447.5"/><use href="#R" x="447.5"/></g><g id="k31-9"><ellipse class="d" cx="499.5"/><use href="#R" x="499.5"/></g>
</g>
<g transform="translate(0,1674)">
<g id="k32-1"><ellipse class="d" cx="83.5"/><use href="#L" x="83.5"/></g><g id="k32-2"><ellipse class="d" cx="135.5"/><use href="#L" x="135.5"/></g><g id="k32-3"><ellipse class="d" cx="187.5"/><use href="#L" x="187.5"/></g><g id="k32-4"><ellipse class="d" cx="239.5"/><use href="#L" x="239.5"/></g><g id="k32-5"><ellipse class="d" cx="291.5"/><use href="#L" x="291.5"/></g><g id="k32-6"><ellipse class="d" cx="343.5"/><use href="#L" x="343.5"/></g><g id="k32-7"><ellipse class="d" cx="395.5"/><use href="#L" x="395.5"/></g><g id="k32-8"><ellipse class="d" cx="447.5"/><use href="#L" x="447.5"/></g><g id="k32-9"><ellipse class="d" cx="499.5"/><use href="#L" x="499.5"/></g>
</g>
</g>
<text class="wm" x="292" y="873">BRACELETBOOK.COM</text>
</svg>
